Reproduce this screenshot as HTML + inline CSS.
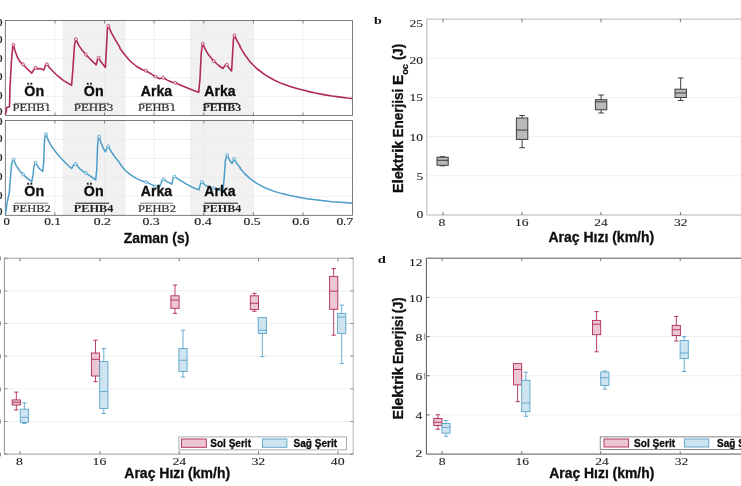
<!DOCTYPE html>
<html lang="tr">
<head>
<meta charset="utf-8">
<title>Elektrik Enerjisi</title>
<style>
html,body{margin:0;padding:0;background:#fff;}
body{width:741px;height:486px;overflow:hidden;position:relative;}
svg{display:block;position:absolute;left:0;top:0;}
.tk{font-family:"Liberation Serif",serif;font-size:11px;fill:#1e1e1e;stroke:#1e1e1e;stroke-width:0.1px;}
.ta{font-family:"Liberation Serif",serif;font-size:9.6px;fill:#1e1e1e;stroke:#1e1e1e;stroke-width:0.15px;}
.lb{font-family:"Liberation Sans",sans-serif;font-weight:bold;fill:#0c0c0c;stroke:#0c0c0c;stroke-width:0.3px;}
.pe{font-family:"Liberation Serif",serif;font-size:9.3px;fill:#333;stroke:#333;stroke-width:0.2px;}
.pb{font-family:"Liberation Serif",serif;font-size:9.3px;font-weight:bold;fill:#1c1c1c;}
.pl{font-family:"Liberation Serif",serif;font-weight:bold;font-size:11.3px;fill:#111;}
</style>
</head>
<body>
<svg width="741" height="486" viewBox="0 0 741 486">
<defs><filter id="sf" x="-5%" y="-5%" width="110%" height="110%"><feGaussianBlur stdDeviation="0.3"/></filter></defs>
<rect x="0" y="0" width="741" height="486" fill="#ffffff"/>
<g filter="url(#sf)">

<!-- panel a -->
<rect x="62.8" y="20.5" width="62.8" height="95.0" fill="#f1f1f1"/>
<rect x="190" y="20.5" width="63.4" height="95.0" fill="#f1f1f1"/>
<line x1="54.9" y1="20.5" x2="54.9" y2="115.5" stroke="#e9e9e9" stroke-width="0.7"/>
<line x1="104.5" y1="20.5" x2="104.5" y2="115.5" stroke="#e9e9e9" stroke-width="0.7"/>
<line x1="154.1" y1="20.5" x2="154.1" y2="115.5" stroke="#e9e9e9" stroke-width="0.7"/>
<line x1="203.8" y1="20.5" x2="203.8" y2="115.5" stroke="#e9e9e9" stroke-width="0.7"/>
<line x1="253.4" y1="20.5" x2="253.4" y2="115.5" stroke="#e9e9e9" stroke-width="0.7"/>
<line x1="303.0" y1="20.5" x2="303.0" y2="115.5" stroke="#e9e9e9" stroke-width="0.7"/>
<line x1="5.3" y1="39.5" x2="352.6" y2="39.5" stroke="#e9e9e9" stroke-width="0.7"/>
<line x1="5.3" y1="58.5" x2="352.6" y2="58.5" stroke="#e9e9e9" stroke-width="0.7"/>
<line x1="5.3" y1="77.5" x2="352.6" y2="77.5" stroke="#e9e9e9" stroke-width="0.7"/>
<line x1="5.3" y1="96.5" x2="352.6" y2="96.5" stroke="#e9e9e9" stroke-width="0.7"/>
<rect x="5.3" y="20.5" width="347.3" height="95.0" fill="none" stroke="#5a5a5a" stroke-width="0.8"/>
<line x1="54.9" y1="20.5" x2="54.9" y2="23.5" stroke="#666" stroke-width="0.8"/>
<line x1="54.9" y1="115.5" x2="54.9" y2="112.5" stroke="#666" stroke-width="0.8"/>
<line x1="104.5" y1="20.5" x2="104.5" y2="23.5" stroke="#666" stroke-width="0.8"/>
<line x1="104.5" y1="115.5" x2="104.5" y2="112.5" stroke="#666" stroke-width="0.8"/>
<line x1="154.1" y1="20.5" x2="154.1" y2="23.5" stroke="#666" stroke-width="0.8"/>
<line x1="154.1" y1="115.5" x2="154.1" y2="112.5" stroke="#666" stroke-width="0.8"/>
<line x1="203.8" y1="20.5" x2="203.8" y2="23.5" stroke="#666" stroke-width="0.8"/>
<line x1="203.8" y1="115.5" x2="203.8" y2="112.5" stroke="#666" stroke-width="0.8"/>
<line x1="253.4" y1="20.5" x2="253.4" y2="23.5" stroke="#666" stroke-width="0.8"/>
<line x1="253.4" y1="115.5" x2="253.4" y2="112.5" stroke="#666" stroke-width="0.8"/>
<line x1="303.0" y1="20.5" x2="303.0" y2="23.5" stroke="#666" stroke-width="0.8"/>
<line x1="303.0" y1="115.5" x2="303.0" y2="112.5" stroke="#666" stroke-width="0.8"/>
<rect x="62.8" y="120.5" width="62.8" height="94.8" fill="#f1f1f1"/>
<rect x="190" y="120.5" width="63.4" height="94.8" fill="#f1f1f1"/>
<line x1="54.9" y1="120.5" x2="54.9" y2="215.3" stroke="#e9e9e9" stroke-width="0.7"/>
<line x1="104.5" y1="120.5" x2="104.5" y2="215.3" stroke="#e9e9e9" stroke-width="0.7"/>
<line x1="154.1" y1="120.5" x2="154.1" y2="215.3" stroke="#e9e9e9" stroke-width="0.7"/>
<line x1="203.8" y1="120.5" x2="203.8" y2="215.3" stroke="#e9e9e9" stroke-width="0.7"/>
<line x1="253.4" y1="120.5" x2="253.4" y2="215.3" stroke="#e9e9e9" stroke-width="0.7"/>
<line x1="303.0" y1="120.5" x2="303.0" y2="215.3" stroke="#e9e9e9" stroke-width="0.7"/>
<line x1="5.3" y1="139.5" x2="352.6" y2="139.5" stroke="#e9e9e9" stroke-width="0.7"/>
<line x1="5.3" y1="158.4" x2="352.6" y2="158.4" stroke="#e9e9e9" stroke-width="0.7"/>
<line x1="5.3" y1="177.4" x2="352.6" y2="177.4" stroke="#e9e9e9" stroke-width="0.7"/>
<line x1="5.3" y1="196.3" x2="352.6" y2="196.3" stroke="#e9e9e9" stroke-width="0.7"/>
<rect x="5.3" y="120.5" width="347.3" height="94.8" fill="none" stroke="#5a5a5a" stroke-width="0.8"/>
<line x1="54.9" y1="120.5" x2="54.9" y2="123.5" stroke="#666" stroke-width="0.8"/>
<line x1="54.9" y1="215.3" x2="54.9" y2="212.3" stroke="#666" stroke-width="0.8"/>
<line x1="104.5" y1="120.5" x2="104.5" y2="123.5" stroke="#666" stroke-width="0.8"/>
<line x1="104.5" y1="215.3" x2="104.5" y2="212.3" stroke="#666" stroke-width="0.8"/>
<line x1="154.1" y1="120.5" x2="154.1" y2="123.5" stroke="#666" stroke-width="0.8"/>
<line x1="154.1" y1="215.3" x2="154.1" y2="212.3" stroke="#666" stroke-width="0.8"/>
<line x1="203.8" y1="120.5" x2="203.8" y2="123.5" stroke="#666" stroke-width="0.8"/>
<line x1="203.8" y1="215.3" x2="203.8" y2="212.3" stroke="#666" stroke-width="0.8"/>
<line x1="253.4" y1="120.5" x2="253.4" y2="123.5" stroke="#666" stroke-width="0.8"/>
<line x1="253.4" y1="215.3" x2="253.4" y2="212.3" stroke="#666" stroke-width="0.8"/>
<line x1="303.0" y1="120.5" x2="303.0" y2="123.5" stroke="#666" stroke-width="0.8"/>
<line x1="303.0" y1="215.3" x2="303.0" y2="212.3" stroke="#666" stroke-width="0.8"/>
<polyline points="5.5,114.3 6.8,107.5 9.5,106.8 10.0,86.9 11.4,61.8 12.6,47.6 13.4,45.1 15.1,51.0 17.6,57.7 20.1,61.8 22.9,64.3 26.8,68.5 31.8,73.2 33.5,70.2 35.5,67.7 37.7,69.0 40.2,68.5 43.8,69.9 45.5,65.2 46.9,64.3 50.2,68.5 56.9,75.2 63.6,80.6 71.6,85.3 72.8,70.2 74.5,45.1 75.8,39.2 78.7,45.1 82.0,50.1 85.8,54.6 90.4,59.3 96.2,64.8 97.6,59.3 98.7,57.7 100.4,61.0 102.9,64.3 105.4,67.4 106.6,45.1 107.4,28.4 108.4,25.9 111.3,32.6 115.5,40.1 119.6,46.8 120.0,48.4 125.0,55.1 130.0,61.0 136.7,66.5 143.4,70.2 145.9,70.7 151.8,74.4 155.5,76.6 159.3,78.6 161.5,78.2 163.2,77.7 166.9,79.9 171.9,82.3 175.2,82.8 180.2,84.9 186.9,87.8 193.6,90.6 198.7,92.3 200.0,78.6 201.2,53.5 202.3,45.1 202.8,43.8 205.3,49.3 208.7,55.1 213.7,61.0 218.7,65.5 222.9,68.5 225.1,65.5 226.8,64.7 228.8,67.7 231.6,71.0 232.6,53.5 233.5,38.4 234.5,35.4 237.1,40.9 240.5,46.8 240.0,46.8 245.0,55.1 250.0,61.8 256.7,68.5 265.1,74.9 273.5,79.7 281.8,83.6 290.2,86.6 298.6,88.9 306.9,91.1 315.3,93.0 323.7,94.6 332.0,96.0 340.4,97.1 347.1,98.0 352.1,98.5" fill="none" stroke="#b02a52" stroke-width="1.6" stroke-linejoin="round"/>
<circle cx="13.4" cy="44.8" r="1.5" fill="#f3d9e2" stroke="#b02a52" stroke-width="0.7"/>
<circle cx="22.9" cy="64.3" r="1.5" fill="#f3d9e2" stroke="#b02a52" stroke-width="0.7"/>
<circle cx="35.5" cy="67.7" r="1.5" fill="#f3d9e2" stroke="#b02a52" stroke-width="0.7"/>
<circle cx="46.9" cy="64.3" r="1.5" fill="#f3d9e2" stroke="#b02a52" stroke-width="0.7"/>
<circle cx="75.8" cy="39.2" r="1.5" fill="#f3d9e2" stroke="#b02a52" stroke-width="0.7"/>
<circle cx="85.8" cy="54.6" r="1.5" fill="#f3d9e2" stroke="#b02a52" stroke-width="0.7"/>
<circle cx="98.7" cy="57.7" r="1.5" fill="#f3d9e2" stroke="#b02a52" stroke-width="0.7"/>
<circle cx="108.4" cy="25.9" r="1.5" fill="#f3d9e2" stroke="#b02a52" stroke-width="0.7"/>
<circle cx="145.9" cy="70.7" r="1.5" fill="#f3d9e2" stroke="#b02a52" stroke-width="0.7"/>
<circle cx="155.5" cy="76.6" r="1.5" fill="#f3d9e2" stroke="#b02a52" stroke-width="0.7"/>
<circle cx="163.2" cy="77.7" r="1.5" fill="#f3d9e2" stroke="#b02a52" stroke-width="0.7"/>
<circle cx="175.2" cy="82.8" r="1.5" fill="#f3d9e2" stroke="#b02a52" stroke-width="0.7"/>
<circle cx="202.8" cy="43.8" r="1.5" fill="#f3d9e2" stroke="#b02a52" stroke-width="0.7"/>
<circle cx="213.7" cy="61.0" r="1.5" fill="#f3d9e2" stroke="#b02a52" stroke-width="0.7"/>
<circle cx="226.8" cy="64.7" r="1.5" fill="#f3d9e2" stroke="#b02a52" stroke-width="0.7"/>
<circle cx="234.5" cy="35.4" r="1.5" fill="#f3d9e2" stroke="#b02a52" stroke-width="0.7"/>
<polyline points="5.5,214.3 7.0,203.0 9.0,194.2 9.2,193.6 10.5,176.9 11.7,163.5 12.7,160.2 13.7,159.5 15.9,165.2 19.2,170.2 23.1,174.4 27.6,178.6 31.8,181.6 33.0,175.2 34.0,166.0 35.1,163.2 35.6,162.7 37.7,166.5 40.2,169.5 42.7,171.4 43.7,161.8 44.5,140.1 45.3,135.1 46.0,134.2 48.5,140.9 51.9,146.8 56.9,153.5 61.9,159.3 66.9,164.3 71.6,168.5 73.6,165.2 75.6,163.8 79.5,168.5 83.7,171.9 85.8,173.0 90.4,176.1 95.7,179.9 96.7,170.2 97.6,145.1 98.4,137.6 99.1,136.7 101.2,143.4 103.4,148.4 105.4,151.8 107.1,147.6 108.3,146.4 111.3,151.8 115.5,157.7 119.6,162.7 120.0,163.8 125.0,170.2 130.0,174.4 136.7,178.6 143.4,181.6 145.9,181.9 151.0,184.4 155.1,186.4 159.3,186.9 161.0,183.6 162.2,179.9 163.5,179.4 166.9,181.6 171.9,184.1 173.0,178.6 174.4,176.6 178.6,179.4 186.9,184.4 193.6,187.8 199.0,189.9 200.3,184.4 202.0,181.9 205.3,185.3 210.4,187.8 213.7,188.3 220.4,190.3 222.9,191.1 224.1,178.6 225.4,160.2 227.1,155.1 229.6,160.2 232.1,163.5 234.1,158.8 237.1,163.8 240.5,168.0 240.0,168.2 245.0,173.9 250.0,178.6 256.7,183.3 265.1,187.8 273.5,191.1 281.8,193.6 290.2,195.6 298.6,197.3 306.9,198.7 315.3,199.8 323.7,200.8 332.0,201.7 340.4,202.3 347.1,202.8 352.1,203.2" fill="none" stroke="#4b9dc9" stroke-width="1.5" stroke-linejoin="round"/>
<circle cx="13.7" cy="159.5" r="1.5" fill="#d9eaf5" stroke="#4b9dc9" stroke-width="0.7"/>
<circle cx="23.1" cy="174.4" r="1.5" fill="#d9eaf5" stroke="#4b9dc9" stroke-width="0.7"/>
<circle cx="35.6" cy="162.7" r="1.5" fill="#d9eaf5" stroke="#4b9dc9" stroke-width="0.7"/>
<circle cx="46.0" cy="134.2" r="1.5" fill="#d9eaf5" stroke="#4b9dc9" stroke-width="0.7"/>
<circle cx="75.6" cy="163.8" r="1.5" fill="#d9eaf5" stroke="#4b9dc9" stroke-width="0.7"/>
<circle cx="85.8" cy="173.0" r="1.5" fill="#d9eaf5" stroke="#4b9dc9" stroke-width="0.7"/>
<circle cx="99.1" cy="136.7" r="1.5" fill="#d9eaf5" stroke="#4b9dc9" stroke-width="0.7"/>
<circle cx="108.3" cy="146.4" r="1.5" fill="#d9eaf5" stroke="#4b9dc9" stroke-width="0.7"/>
<circle cx="145.9" cy="181.9" r="1.5" fill="#d9eaf5" stroke="#4b9dc9" stroke-width="0.7"/>
<circle cx="155.1" cy="186.4" r="1.5" fill="#d9eaf5" stroke="#4b9dc9" stroke-width="0.7"/>
<circle cx="163.5" cy="179.4" r="1.5" fill="#d9eaf5" stroke="#4b9dc9" stroke-width="0.7"/>
<circle cx="174.4" cy="176.6" r="1.5" fill="#d9eaf5" stroke="#4b9dc9" stroke-width="0.7"/>
<circle cx="202.0" cy="181.9" r="1.5" fill="#d9eaf5" stroke="#4b9dc9" stroke-width="0.7"/>
<circle cx="213.7" cy="188.3" r="1.5" fill="#d9eaf5" stroke="#4b9dc9" stroke-width="0.7"/>
<circle cx="227.1" cy="155.1" r="1.5" fill="#d9eaf5" stroke="#4b9dc9" stroke-width="0.7"/>
<circle cx="234.1" cy="158.8" r="1.5" fill="#d9eaf5" stroke="#4b9dc9" stroke-width="0.7"/>
<text class="ta" x="2.6" y="25.7" text-anchor="end" textLength="12.6" lengthAdjust="spacingAndGlyphs">50</text>
<text class="ta" x="2.6" y="125.3" text-anchor="end" textLength="12.6" lengthAdjust="spacingAndGlyphs">50</text>
<text class="ta" x="2.6" y="42.8" text-anchor="end" textLength="12.6" lengthAdjust="spacingAndGlyphs">40</text>
<text class="ta" x="2.6" y="142.4" text-anchor="end" textLength="12.6" lengthAdjust="spacingAndGlyphs">40</text>
<text class="ta" x="2.6" y="61.8" text-anchor="end" textLength="12.6" lengthAdjust="spacingAndGlyphs">30</text>
<text class="ta" x="2.6" y="161.4" text-anchor="end" textLength="12.6" lengthAdjust="spacingAndGlyphs">30</text>
<text class="ta" x="2.6" y="80.3" text-anchor="end" textLength="12.6" lengthAdjust="spacingAndGlyphs">20</text>
<text class="ta" x="2.6" y="179.9" text-anchor="end" textLength="12.6" lengthAdjust="spacingAndGlyphs">20</text>
<text class="ta" x="2.6" y="98.9" text-anchor="end" textLength="12.6" lengthAdjust="spacingAndGlyphs">10</text>
<text class="ta" x="2.6" y="198.5" text-anchor="end" textLength="12.6" lengthAdjust="spacingAndGlyphs">10</text>
<text class="ta" x="2.6" y="115.3" text-anchor="end" textLength="12.6" lengthAdjust="spacingAndGlyphs">00</text>
<text class="ta" x="2.6" y="214.9" text-anchor="end" textLength="12.6" lengthAdjust="spacingAndGlyphs">00</text>
<text class="lb" x="24.3" y="95.6" font-size="14.5px" textLength="19.8" lengthAdjust="spacingAndGlyphs">Ön</text>
<line x1="14.1" y1="103.4" x2="48.2" y2="103.4" stroke="#2e2e2e" stroke-width="0.6"/>
<text class="pe" x="12.6" y="111.2" textLength="38.3" lengthAdjust="spacingAndGlyphs">PEHB1</text>
<text class="lb" x="24.3" y="196.0" font-size="14.5px" textLength="19.8" lengthAdjust="spacingAndGlyphs">Ön</text>
<line x1="14.1" y1="203.2" x2="48.2" y2="203.2" stroke="#2e2e2e" stroke-width="0.6"/>
<text class="pe" x="12.6" y="211.7" textLength="38.3" lengthAdjust="spacingAndGlyphs">PEHB2</text>
<text class="lb" x="83.8" y="95.6" font-size="14.5px" textLength="19.8" lengthAdjust="spacingAndGlyphs">Ön</text>
<line x1="75.6" y1="103.4" x2="109.2" y2="103.4" stroke="#2e2e2e" stroke-width="0.6"/>
<text class="pe" x="73.7" y="111.2" textLength="39.6" lengthAdjust="spacingAndGlyphs">PEHB3</text>
<text class="lb" x="83.8" y="196.0" font-size="14.5px" textLength="19.8" lengthAdjust="spacingAndGlyphs">Ön</text>
<line x1="75.6" y1="203.2" x2="109.2" y2="203.2" stroke="#1a1a1a" stroke-width="1.0"/>
<text class="pb" x="73.7" y="211.7" textLength="39.6" lengthAdjust="spacingAndGlyphs">PEHB4</text>
<text class="lb" x="140.8" y="95.6" font-size="14.5px" textLength="31.2" lengthAdjust="spacingAndGlyphs">Arka</text>
<line x1="140.0" y1="103.4" x2="173.2" y2="103.4" stroke="#2e2e2e" stroke-width="0.6"/>
<text class="pe" x="137.9" y="111.2" textLength="38.0" lengthAdjust="spacingAndGlyphs">PEHB1</text>
<text class="lb" x="140.8" y="196.0" font-size="14.5px" textLength="31.2" lengthAdjust="spacingAndGlyphs">Arka</text>
<line x1="140.0" y1="203.2" x2="173.2" y2="203.2" stroke="#2e2e2e" stroke-width="0.6"/>
<text class="pe" x="137.9" y="211.7" textLength="38.0" lengthAdjust="spacingAndGlyphs">PEHB2</text>
<text class="lb" x="204.3" y="95.6" font-size="14.5px" textLength="31.2" lengthAdjust="spacingAndGlyphs">Arka</text>
<line x1="204.3" y1="103.4" x2="238.0" y2="103.4" stroke="#1a1a1a" stroke-width="1.0"/>
<text class="pb" x="202.4" y="111.2" textLength="38.8" lengthAdjust="spacingAndGlyphs">PEHB3</text>
<text class="lb" x="204.3" y="196.0" font-size="14.5px" textLength="31.2" lengthAdjust="spacingAndGlyphs">Arka</text>
<line x1="204.3" y1="203.2" x2="238.0" y2="203.2" stroke="#1a1a1a" stroke-width="1.0"/>
<text class="pb" x="202.4" y="211.7" textLength="38.8" lengthAdjust="spacingAndGlyphs">PEHB4</text>
<text class="ta" x="3.5" y="225.0" textLength="6.3" lengthAdjust="spacingAndGlyphs">0</text>
<text class="ta" x="44.2" y="225.0" textLength="16.7" lengthAdjust="spacingAndGlyphs">0.1</text>
<text class="ta" x="93.8" y="225.0" textLength="17.2" lengthAdjust="spacingAndGlyphs">0.2</text>
<text class="ta" x="142.4" y="225.0" textLength="17.2" lengthAdjust="spacingAndGlyphs">0.3</text>
<text class="ta" x="194.2" y="225.0" textLength="17.5" lengthAdjust="spacingAndGlyphs">0.4</text>
<text class="ta" x="243.5" y="225.0" textLength="17.2" lengthAdjust="spacingAndGlyphs">0.5</text>
<text class="ta" x="292.2" y="225.0" textLength="17.2" lengthAdjust="spacingAndGlyphs">0.6</text>
<text class="ta" x="336.4" y="225.0" textLength="16.8" lengthAdjust="spacingAndGlyphs">0.7</text>
<text class="lb" x="123.8" y="242.6" font-size="14.2px" textLength="65.5" lengthAdjust="spacingAndGlyphs">Zaman (s)</text>
<!-- panel b -->
<line x1="426.8" y1="175.8" x2="741" y2="175.8" stroke="#e9e9e9" stroke-width="0.7"/>
<line x1="426.8" y1="136.6" x2="741" y2="136.6" stroke="#e9e9e9" stroke-width="0.7"/>
<line x1="426.8" y1="97.5" x2="741" y2="97.5" stroke="#e9e9e9" stroke-width="0.7"/>
<line x1="426.8" y1="58.3" x2="741" y2="58.3" stroke="#e9e9e9" stroke-width="0.7"/>
<line x1="426.8" y1="19.1" x2="741" y2="19.1" stroke="#858585" stroke-width="0.6"/>
<line x1="426.8" y1="215.0" x2="741" y2="215.0" stroke="#858585" stroke-width="0.6"/>
<line x1="426.8" y1="19.1" x2="426.8" y2="215.0" stroke="#858585" stroke-width="0.6"/>
<line x1="443.1" y1="19.1" x2="443.1" y2="22.1" stroke="#555" stroke-width="0.8"/>
<line x1="443.1" y1="215.0" x2="443.1" y2="212.0" stroke="#555" stroke-width="0.8"/>
<line x1="522.0" y1="19.1" x2="522.0" y2="22.1" stroke="#555" stroke-width="0.8"/>
<line x1="522.0" y1="215.0" x2="522.0" y2="212.0" stroke="#555" stroke-width="0.8"/>
<line x1="600.9" y1="19.1" x2="600.9" y2="22.1" stroke="#555" stroke-width="0.8"/>
<line x1="600.9" y1="215.0" x2="600.9" y2="212.0" stroke="#555" stroke-width="0.8"/>
<line x1="680.4" y1="19.1" x2="680.4" y2="22.1" stroke="#555" stroke-width="0.8"/>
<line x1="680.4" y1="215.0" x2="680.4" y2="212.0" stroke="#555" stroke-width="0.8"/>
<line x1="442.6" y1="156.7" x2="442.6" y2="157.2" stroke="#3c3c3c" stroke-width="1.0"/>
<line x1="440.0" y1="156.7" x2="445.2" y2="156.7" stroke="#3c3c3c" stroke-width="1.0"/>
<line x1="442.6" y1="165.3" x2="442.6" y2="165.8" stroke="#3c3c3c" stroke-width="1.0"/>
<line x1="440.0" y1="165.8" x2="445.2" y2="165.8" stroke="#3c3c3c" stroke-width="1.0"/>
<rect x="437.0" y="157.2" width="11.2" height="8.1" fill="#b9b9b9" stroke="#3c3c3c" stroke-width="1.0"/>
<line x1="437.0" y1="160.3" x2="448.2" y2="160.3" stroke="#3c3c3c" stroke-width="1.0"/>
<line x1="522.1" y1="115.5" x2="522.1" y2="118.0" stroke="#3c3c3c" stroke-width="1.0"/>
<line x1="519.3" y1="115.5" x2="524.9" y2="115.5" stroke="#3c3c3c" stroke-width="1.0"/>
<line x1="522.1" y1="139.4" x2="522.1" y2="147.7" stroke="#3c3c3c" stroke-width="1.0"/>
<line x1="519.3" y1="147.7" x2="524.9" y2="147.7" stroke="#3c3c3c" stroke-width="1.0"/>
<rect x="516.4" y="118.0" width="11.4" height="21.4" fill="#b9b9b9" stroke="#3c3c3c" stroke-width="1.0"/>
<line x1="516.4" y1="130.1" x2="527.8" y2="130.1" stroke="#3c3c3c" stroke-width="1.0"/>
<line x1="601.1" y1="95.0" x2="601.1" y2="99.7" stroke="#3c3c3c" stroke-width="1.0"/>
<line x1="598.3" y1="95.0" x2="603.9" y2="95.0" stroke="#3c3c3c" stroke-width="1.0"/>
<line x1="601.1" y1="109.8" x2="601.1" y2="113.0" stroke="#3c3c3c" stroke-width="1.0"/>
<line x1="598.3" y1="113.0" x2="603.9" y2="113.0" stroke="#3c3c3c" stroke-width="1.0"/>
<rect x="595.4" y="99.7" width="11.4" height="10.1" fill="#b9b9b9" stroke="#3c3c3c" stroke-width="1.0"/>
<line x1="595.4" y1="101.8" x2="606.8" y2="101.8" stroke="#3c3c3c" stroke-width="1.0"/>
<line x1="680.7" y1="77.9" x2="680.7" y2="89.2" stroke="#3c3c3c" stroke-width="1.0"/>
<line x1="677.9" y1="77.9" x2="683.5" y2="77.9" stroke="#3c3c3c" stroke-width="1.0"/>
<line x1="680.7" y1="97.5" x2="680.7" y2="100.5" stroke="#3c3c3c" stroke-width="1.0"/>
<line x1="677.9" y1="100.5" x2="683.5" y2="100.5" stroke="#3c3c3c" stroke-width="1.0"/>
<rect x="675.0" y="89.2" width="11.4" height="8.3" fill="#b9b9b9" stroke="#3c3c3c" stroke-width="1.0"/>
<line x1="675.0" y1="93.0" x2="686.4" y2="93.0" stroke="#3c3c3c" stroke-width="1.0"/>
<text class="tk" x="409.6" y="27.1" textLength="13.5" lengthAdjust="spacingAndGlyphs">25</text>
<text class="tk" x="409.6" y="63.5" textLength="13.5" lengthAdjust="spacingAndGlyphs">20</text>
<text class="tk" x="409.6" y="101.2" textLength="13.5" lengthAdjust="spacingAndGlyphs">15</text>
<text class="tk" x="409.6" y="140.7" textLength="13.5" lengthAdjust="spacingAndGlyphs">10</text>
<text class="tk" x="416.4" y="179.7" textLength="6.8" lengthAdjust="spacingAndGlyphs">5</text>
<text class="tk" x="416.4" y="218.0" textLength="6.8" lengthAdjust="spacingAndGlyphs">0</text>
<text class="tk" x="438.6" y="225.6" textLength="6.8" lengthAdjust="spacingAndGlyphs">8</text>
<text class="tk" x="515.1" y="225.6" textLength="13.5" lengthAdjust="spacingAndGlyphs">16</text>
<text class="tk" x="594.3" y="225.6" textLength="13.5" lengthAdjust="spacingAndGlyphs">24</text>
<text class="tk" x="673.9" y="225.6" textLength="13.5" lengthAdjust="spacingAndGlyphs">32</text>
<text class="pl" x="374.0" y="24.1" textLength="7.8" lengthAdjust="spacingAndGlyphs">b</text>
<text class="lb" font-size="14.2px" transform="translate(402.8,193.0) rotate(-90)" textLength="52.3" lengthAdjust="spacingAndGlyphs">Elektrik</text>
<text class="lb" font-size="14.2px" transform="translate(402.8,137.5) rotate(-90)" textLength="48.7" lengthAdjust="spacingAndGlyphs">Enerjisi</text>
<text class="lb" font-size="14.2px" transform="translate(402.8,85.0) rotate(-90)" textLength="10.2" lengthAdjust="spacingAndGlyphs">E</text>
<text class="lb" font-size="9.5px" transform="translate(408.3,74.8) rotate(-90)" textLength="10.7" lengthAdjust="spacingAndGlyphs">oc</text>
<text class="lb" font-size="14.2px" transform="translate(402.8,60.0) rotate(-90)" textLength="16.0" lengthAdjust="spacingAndGlyphs">(J)</text>
<text class="lb" x="601.3" y="242.4" font-size="14.2px" text-anchor="middle" textLength="105.8" lengthAdjust="spacingAndGlyphs">Araç Hızı (km/h)</text>
<!-- panel c -->
<line x1="4.4" y1="290.9" x2="353.2" y2="290.9" stroke="#e9e9e9" stroke-width="0.7"/>
<line x1="4.4" y1="323.5" x2="353.2" y2="323.5" stroke="#e9e9e9" stroke-width="0.7"/>
<line x1="4.4" y1="356.1" x2="353.2" y2="356.1" stroke="#e9e9e9" stroke-width="0.7"/>
<line x1="4.4" y1="388.8" x2="353.2" y2="388.8" stroke="#e9e9e9" stroke-width="0.7"/>
<line x1="4.4" y1="421.5" x2="353.2" y2="421.5" stroke="#e9e9e9" stroke-width="0.7"/>
<line x1="4.4" y1="258.2" x2="353.2" y2="258.2" stroke="#8c8c8c" stroke-width="0.8"/>
<line x1="353.2" y1="258.2" x2="353.2" y2="454.1" stroke="#a0a0a0" stroke-width="0.8"/>
<line x1="4.4" y1="454.1" x2="353.2" y2="454.1" stroke="#858585" stroke-width="0.8"/>
<line x1="4.4" y1="258.2" x2="4.4" y2="454.1" stroke="#787878" stroke-width="0.8"/>
<line x1="20.1" y1="258.2" x2="20.1" y2="261.2" stroke="#555" stroke-width="0.8"/>
<line x1="20.1" y1="454.1" x2="20.1" y2="451.1" stroke="#555" stroke-width="0.8"/>
<line x1="99.9" y1="258.2" x2="99.9" y2="261.2" stroke="#555" stroke-width="0.8"/>
<line x1="99.9" y1="454.1" x2="99.9" y2="451.1" stroke="#555" stroke-width="0.8"/>
<line x1="179.2" y1="258.2" x2="179.2" y2="261.2" stroke="#555" stroke-width="0.8"/>
<line x1="179.2" y1="454.1" x2="179.2" y2="451.1" stroke="#555" stroke-width="0.8"/>
<line x1="258.6" y1="258.2" x2="258.6" y2="261.2" stroke="#555" stroke-width="0.8"/>
<line x1="258.6" y1="454.1" x2="258.6" y2="451.1" stroke="#555" stroke-width="0.8"/>
<line x1="338.0" y1="258.2" x2="338.0" y2="261.2" stroke="#555" stroke-width="0.8"/>
<line x1="338.0" y1="454.1" x2="338.0" y2="451.1" stroke="#555" stroke-width="0.8"/>
<line x1="353.2" y1="258.2" x2="350.2" y2="258.2" stroke="#666" stroke-width="0.7"/>
<line x1="4.4" y1="258.2" x2="7.4" y2="258.2" stroke="#666" stroke-width="0.7"/>
<text class="tk" x="-12.4" y="261.9" textLength="13.5" lengthAdjust="spacingAndGlyphs">60</text>
<line x1="353.2" y1="290.9" x2="350.2" y2="290.9" stroke="#666" stroke-width="0.7"/>
<line x1="4.4" y1="290.9" x2="7.4" y2="290.9" stroke="#666" stroke-width="0.7"/>
<text class="tk" x="-12.4" y="294.6" textLength="13.5" lengthAdjust="spacingAndGlyphs">50</text>
<line x1="353.2" y1="323.5" x2="350.2" y2="323.5" stroke="#666" stroke-width="0.7"/>
<line x1="4.4" y1="323.5" x2="7.4" y2="323.5" stroke="#666" stroke-width="0.7"/>
<text class="tk" x="-12.4" y="327.2" textLength="13.5" lengthAdjust="spacingAndGlyphs">40</text>
<line x1="353.2" y1="356.1" x2="350.2" y2="356.1" stroke="#666" stroke-width="0.7"/>
<line x1="4.4" y1="356.1" x2="7.4" y2="356.1" stroke="#666" stroke-width="0.7"/>
<text class="tk" x="-12.4" y="359.8" textLength="13.5" lengthAdjust="spacingAndGlyphs">30</text>
<line x1="353.2" y1="388.8" x2="350.2" y2="388.8" stroke="#666" stroke-width="0.7"/>
<line x1="4.4" y1="388.8" x2="7.4" y2="388.8" stroke="#666" stroke-width="0.7"/>
<text class="tk" x="-12.4" y="392.5" textLength="13.5" lengthAdjust="spacingAndGlyphs">20</text>
<line x1="353.2" y1="421.5" x2="350.2" y2="421.5" stroke="#666" stroke-width="0.7"/>
<line x1="4.4" y1="421.5" x2="7.4" y2="421.5" stroke="#666" stroke-width="0.7"/>
<text class="tk" x="-12.4" y="425.2" textLength="13.5" lengthAdjust="spacingAndGlyphs">10</text>
<line x1="353.2" y1="454.1" x2="350.2" y2="454.1" stroke="#666" stroke-width="0.7"/>
<line x1="4.4" y1="454.1" x2="7.4" y2="454.1" stroke="#666" stroke-width="0.7"/>
<text class="tk" x="-12.4" y="457.8" textLength="13.5" lengthAdjust="spacingAndGlyphs">00</text>
<line x1="16.3" y1="392.1" x2="16.3" y2="399.9" stroke="#b02a52" stroke-width="0.9"/>
<line x1="14.1" y1="392.1" x2="18.5" y2="392.1" stroke="#b02a52" stroke-width="0.9"/>
<line x1="16.3" y1="405.0" x2="16.3" y2="410.0" stroke="#b02a52" stroke-width="0.9"/>
<line x1="14.1" y1="410.0" x2="18.5" y2="410.0" stroke="#b02a52" stroke-width="0.9"/>
<rect x="12.2" y="399.9" width="8.2" height="5.1" fill="#ecc6d3" stroke="#b02a52" stroke-width="0.9"/>
<line x1="12.2" y1="402.2" x2="20.4" y2="402.2" stroke="#b02a52" stroke-width="0.9"/>
<line x1="24.4" y1="402.9" x2="24.4" y2="409.2" stroke="#5aa3cb" stroke-width="0.9"/>
<line x1="22.2" y1="402.9" x2="26.6" y2="402.9" stroke="#5aa3cb" stroke-width="0.9"/>
<line x1="24.4" y1="422.3" x2="24.4" y2="423.5" stroke="#5aa3cb" stroke-width="0.9"/>
<line x1="22.2" y1="423.5" x2="26.6" y2="423.5" stroke="#5aa3cb" stroke-width="0.9"/>
<rect x="20.3" y="409.2" width="8.2" height="13.1" fill="#cfe4f1" stroke="#5aa3cb" stroke-width="0.9"/>
<line x1="20.3" y1="417.3" x2="28.5" y2="417.3" stroke="#5aa3cb" stroke-width="0.9"/>
<line x1="95.5" y1="340.2" x2="95.5" y2="353.0" stroke="#b02a52" stroke-width="0.9"/>
<line x1="93.3" y1="340.2" x2="97.7" y2="340.2" stroke="#b02a52" stroke-width="0.9"/>
<line x1="95.5" y1="376.0" x2="95.5" y2="381.6" stroke="#b02a52" stroke-width="0.9"/>
<line x1="93.3" y1="381.6" x2="97.7" y2="381.6" stroke="#b02a52" stroke-width="0.9"/>
<rect x="91.4" y="353.0" width="8.2" height="23.0" fill="#ecc6d3" stroke="#b02a52" stroke-width="0.9"/>
<line x1="91.4" y1="359.3" x2="99.6" y2="359.3" stroke="#b02a52" stroke-width="0.9"/>
<line x1="103.8" y1="348.5" x2="103.8" y2="361.6" stroke="#5aa3cb" stroke-width="0.9"/>
<line x1="101.6" y1="348.5" x2="106.0" y2="348.5" stroke="#5aa3cb" stroke-width="0.9"/>
<line x1="103.8" y1="408.5" x2="103.8" y2="413.5" stroke="#5aa3cb" stroke-width="0.9"/>
<line x1="101.6" y1="413.5" x2="106.0" y2="413.5" stroke="#5aa3cb" stroke-width="0.9"/>
<rect x="99.7" y="361.6" width="8.2" height="46.9" fill="#cfe4f1" stroke="#5aa3cb" stroke-width="0.9"/>
<line x1="99.7" y1="391.6" x2="107.9" y2="391.6" stroke="#5aa3cb" stroke-width="0.9"/>
<line x1="175.0" y1="285.0" x2="175.0" y2="295.8" stroke="#b02a52" stroke-width="0.9"/>
<line x1="172.8" y1="285.0" x2="177.2" y2="285.0" stroke="#b02a52" stroke-width="0.9"/>
<line x1="175.0" y1="308.3" x2="175.0" y2="313.4" stroke="#b02a52" stroke-width="0.9"/>
<line x1="172.8" y1="313.4" x2="177.2" y2="313.4" stroke="#b02a52" stroke-width="0.9"/>
<rect x="170.9" y="295.8" width="8.2" height="12.5" fill="#ecc6d3" stroke="#b02a52" stroke-width="0.9"/>
<line x1="170.9" y1="300.0" x2="179.1" y2="300.0" stroke="#b02a52" stroke-width="0.9"/>
<line x1="183.0" y1="330.2" x2="183.0" y2="348.5" stroke="#5aa3cb" stroke-width="0.9"/>
<line x1="180.8" y1="330.2" x2="185.2" y2="330.2" stroke="#5aa3cb" stroke-width="0.9"/>
<line x1="183.0" y1="371.5" x2="183.0" y2="377.0" stroke="#5aa3cb" stroke-width="0.9"/>
<line x1="180.8" y1="377.0" x2="185.2" y2="377.0" stroke="#5aa3cb" stroke-width="0.9"/>
<rect x="178.9" y="348.5" width="8.2" height="23.0" fill="#cfe4f1" stroke="#5aa3cb" stroke-width="0.9"/>
<line x1="178.9" y1="360.3" x2="187.1" y2="360.3" stroke="#5aa3cb" stroke-width="0.9"/>
<line x1="254.4" y1="293.3" x2="254.4" y2="295.8" stroke="#b02a52" stroke-width="0.9"/>
<line x1="252.2" y1="293.3" x2="256.6" y2="293.3" stroke="#b02a52" stroke-width="0.9"/>
<line x1="254.4" y1="309.6" x2="254.4" y2="311.3" stroke="#b02a52" stroke-width="0.9"/>
<line x1="252.2" y1="311.3" x2="256.6" y2="311.3" stroke="#b02a52" stroke-width="0.9"/>
<rect x="250.3" y="295.8" width="8.2" height="13.8" fill="#ecc6d3" stroke="#b02a52" stroke-width="0.9"/>
<line x1="250.3" y1="303.3" x2="258.5" y2="303.3" stroke="#b02a52" stroke-width="0.9"/>
<line x1="262.3" y1="333.5" x2="262.3" y2="356.6" stroke="#5aa3cb" stroke-width="0.9"/>
<line x1="260.1" y1="356.6" x2="264.5" y2="356.6" stroke="#5aa3cb" stroke-width="0.9"/>
<rect x="258.2" y="317.6" width="8.2" height="15.9" fill="#cfe4f1" stroke="#5aa3cb" stroke-width="0.9"/>
<line x1="258.2" y1="330.2" x2="266.4" y2="330.2" stroke="#5aa3cb" stroke-width="0.9"/>
<line x1="333.7" y1="268.6" x2="333.7" y2="276.4" stroke="#b02a52" stroke-width="0.9"/>
<line x1="331.5" y1="268.6" x2="335.9" y2="268.6" stroke="#b02a52" stroke-width="0.9"/>
<line x1="333.7" y1="309.3" x2="333.7" y2="335.2" stroke="#b02a52" stroke-width="0.9"/>
<line x1="331.5" y1="335.2" x2="335.9" y2="335.2" stroke="#b02a52" stroke-width="0.9"/>
<rect x="329.6" y="276.4" width="8.2" height="32.9" fill="#ecc6d3" stroke="#b02a52" stroke-width="0.9"/>
<line x1="329.6" y1="291.2" x2="337.8" y2="291.2" stroke="#b02a52" stroke-width="0.9"/>
<line x1="341.7" y1="305.1" x2="341.7" y2="313.4" stroke="#5aa3cb" stroke-width="0.9"/>
<line x1="339.5" y1="305.1" x2="343.9" y2="305.1" stroke="#5aa3cb" stroke-width="0.9"/>
<line x1="341.7" y1="333.5" x2="341.7" y2="363.6" stroke="#5aa3cb" stroke-width="0.9"/>
<line x1="339.5" y1="363.6" x2="343.9" y2="363.6" stroke="#5aa3cb" stroke-width="0.9"/>
<rect x="337.6" y="313.4" width="8.2" height="20.1" fill="#cfe4f1" stroke="#5aa3cb" stroke-width="0.9"/>
<line x1="337.6" y1="317.1" x2="345.8" y2="317.1" stroke="#5aa3cb" stroke-width="0.9"/>
<rect x="178.9" y="436.9" width="167.7" height="13" fill="#fff" stroke="#8a8a8a" stroke-width="0.7"/>
<rect x="181.5" y="439.0" width="24.8" height="8.3" fill="#ecc6d3" stroke="#b02a52" stroke-width="0.9"/>
<text class="lb" x="210.2" y="447.2" font-size="11px" textLength="40.8" lengthAdjust="spacingAndGlyphs">Sol Şerit</text>
<rect x="262.5" y="439.0" width="24.4" height="8.3" fill="#cfe4f1" stroke="#5aa3cb" stroke-width="0.9"/>
<text class="lb" x="293.6" y="447.2" font-size="11px" textLength="43.4" lengthAdjust="spacingAndGlyphs">Sağ Şerit</text>
<text class="tk" x="15.9" y="464.5" textLength="6.9" lengthAdjust="spacingAndGlyphs">8</text>
<text class="tk" x="92.5" y="464.5" textLength="13.8" lengthAdjust="spacingAndGlyphs">16</text>
<text class="tk" x="172.4" y="464.5" textLength="13.8" lengthAdjust="spacingAndGlyphs">24</text>
<text class="tk" x="251.4" y="464.5" textLength="13.8" lengthAdjust="spacingAndGlyphs">32</text>
<text class="tk" x="330.8" y="464.5" textLength="13.8" lengthAdjust="spacingAndGlyphs">40</text>
<text class="lb" x="177.2" y="478.3" font-size="14.2px" text-anchor="middle" textLength="105.8" lengthAdjust="spacingAndGlyphs">Araç Hızı (km/h)</text>
<!-- panel d -->
<line x1="426.4" y1="297.4" x2="741" y2="297.4" stroke="#e9e9e9" stroke-width="0.7"/>
<line x1="426.4" y1="336.6" x2="741" y2="336.6" stroke="#e9e9e9" stroke-width="0.7"/>
<line x1="426.4" y1="375.7" x2="741" y2="375.7" stroke="#e9e9e9" stroke-width="0.7"/>
<line x1="426.4" y1="414.9" x2="741" y2="414.9" stroke="#e9e9e9" stroke-width="0.7"/>
<line x1="426.4" y1="258.2" x2="741" y2="258.2" stroke="#444" stroke-width="0.9"/>
<line x1="426.4" y1="454.1" x2="741" y2="454.1" stroke="#444" stroke-width="0.9"/>
<line x1="426.4" y1="258.2" x2="426.4" y2="454.1" stroke="#444" stroke-width="0.9"/>
<line x1="426.4" y1="297.4" x2="429.6" y2="297.4" stroke="#444" stroke-width="0.8"/>
<line x1="426.4" y1="336.6" x2="429.6" y2="336.6" stroke="#444" stroke-width="0.8"/>
<line x1="426.4" y1="375.7" x2="429.6" y2="375.7" stroke="#444" stroke-width="0.8"/>
<line x1="426.4" y1="414.9" x2="429.6" y2="414.9" stroke="#444" stroke-width="0.8"/>
<line x1="442.1" y1="258.2" x2="442.1" y2="261.2" stroke="#555" stroke-width="0.8"/>
<line x1="442.1" y1="454.1" x2="442.1" y2="451.1" stroke="#555" stroke-width="0.8"/>
<line x1="521.8" y1="258.2" x2="521.8" y2="261.2" stroke="#555" stroke-width="0.8"/>
<line x1="521.8" y1="454.1" x2="521.8" y2="451.1" stroke="#555" stroke-width="0.8"/>
<line x1="600.7" y1="258.2" x2="600.7" y2="261.2" stroke="#555" stroke-width="0.8"/>
<line x1="600.7" y1="454.1" x2="600.7" y2="451.1" stroke="#555" stroke-width="0.8"/>
<line x1="680.2" y1="258.2" x2="680.2" y2="261.2" stroke="#555" stroke-width="0.8"/>
<line x1="680.2" y1="454.1" x2="680.2" y2="451.1" stroke="#555" stroke-width="0.8"/>
<line x1="437.9" y1="414.8" x2="437.9" y2="418.5" stroke="#b02a52" stroke-width="0.9"/>
<line x1="435.7" y1="414.8" x2="440.1" y2="414.8" stroke="#b02a52" stroke-width="0.9"/>
<line x1="437.9" y1="425.6" x2="437.9" y2="429.3" stroke="#b02a52" stroke-width="0.9"/>
<line x1="435.7" y1="429.3" x2="440.1" y2="429.3" stroke="#b02a52" stroke-width="0.9"/>
<rect x="433.8" y="418.5" width="8.2" height="7.1" fill="#ecc6d3" stroke="#b02a52" stroke-width="0.9"/>
<line x1="433.8" y1="422.3" x2="442.0" y2="422.3" stroke="#b02a52" stroke-width="0.9"/>
<line x1="446.0" y1="420.5" x2="446.0" y2="423.5" stroke="#5aa3cb" stroke-width="0.9"/>
<line x1="443.8" y1="420.5" x2="448.2" y2="420.5" stroke="#5aa3cb" stroke-width="0.9"/>
<line x1="446.0" y1="433.1" x2="446.0" y2="436.4" stroke="#5aa3cb" stroke-width="0.9"/>
<line x1="443.8" y1="436.4" x2="448.2" y2="436.4" stroke="#5aa3cb" stroke-width="0.9"/>
<rect x="441.9" y="423.5" width="8.2" height="9.6" fill="#cfe4f1" stroke="#5aa3cb" stroke-width="0.9"/>
<line x1="441.9" y1="427.3" x2="450.1" y2="427.3" stroke="#5aa3cb" stroke-width="0.9"/>
<line x1="517.6" y1="384.9" x2="517.6" y2="401.7" stroke="#b02a52" stroke-width="0.9"/>
<line x1="515.4" y1="401.7" x2="519.8" y2="401.7" stroke="#b02a52" stroke-width="0.9"/>
<rect x="513.5" y="363.6" width="8.2" height="21.3" fill="#ecc6d3" stroke="#b02a52" stroke-width="0.9"/>
<line x1="513.5" y1="369.5" x2="521.7" y2="369.5" stroke="#b02a52" stroke-width="0.9"/>
<line x1="525.8" y1="372.3" x2="525.8" y2="380.3" stroke="#5aa3cb" stroke-width="0.9"/>
<line x1="523.6" y1="372.3" x2="528.0" y2="372.3" stroke="#5aa3cb" stroke-width="0.9"/>
<line x1="525.8" y1="411.7" x2="525.8" y2="416.3" stroke="#5aa3cb" stroke-width="0.9"/>
<line x1="523.6" y1="416.3" x2="528.0" y2="416.3" stroke="#5aa3cb" stroke-width="0.9"/>
<rect x="521.7" y="380.3" width="8.2" height="31.4" fill="#cfe4f1" stroke="#5aa3cb" stroke-width="0.9"/>
<line x1="521.7" y1="403.0" x2="529.9" y2="403.0" stroke="#5aa3cb" stroke-width="0.9"/>
<line x1="596.6" y1="311.6" x2="596.6" y2="320.4" stroke="#b02a52" stroke-width="0.9"/>
<line x1="594.4" y1="311.6" x2="598.8" y2="311.6" stroke="#b02a52" stroke-width="0.9"/>
<line x1="596.6" y1="334.7" x2="596.6" y2="351.8" stroke="#b02a52" stroke-width="0.9"/>
<line x1="594.4" y1="351.8" x2="598.8" y2="351.8" stroke="#b02a52" stroke-width="0.9"/>
<rect x="592.5" y="320.4" width="8.2" height="14.3" fill="#ecc6d3" stroke="#b02a52" stroke-width="0.9"/>
<line x1="592.5" y1="324.2" x2="600.7" y2="324.2" stroke="#b02a52" stroke-width="0.9"/>
<line x1="604.8" y1="371.0" x2="604.8" y2="372.0" stroke="#5aa3cb" stroke-width="0.9"/>
<line x1="602.6" y1="371.0" x2="607.0" y2="371.0" stroke="#5aa3cb" stroke-width="0.9"/>
<line x1="604.8" y1="385.4" x2="604.8" y2="389.1" stroke="#5aa3cb" stroke-width="0.9"/>
<line x1="602.6" y1="389.1" x2="607.0" y2="389.1" stroke="#5aa3cb" stroke-width="0.9"/>
<rect x="600.7" y="372.0" width="8.2" height="13.4" fill="#cfe4f1" stroke="#5aa3cb" stroke-width="0.9"/>
<line x1="600.7" y1="377.8" x2="608.9" y2="377.8" stroke="#5aa3cb" stroke-width="0.9"/>
<line x1="676.3" y1="316.4" x2="676.3" y2="325.4" stroke="#b02a52" stroke-width="0.9"/>
<line x1="674.1" y1="316.4" x2="678.5" y2="316.4" stroke="#b02a52" stroke-width="0.9"/>
<line x1="676.3" y1="335.5" x2="676.3" y2="341.0" stroke="#b02a52" stroke-width="0.9"/>
<line x1="674.1" y1="341.0" x2="678.5" y2="341.0" stroke="#b02a52" stroke-width="0.9"/>
<rect x="672.2" y="325.4" width="8.2" height="10.1" fill="#ecc6d3" stroke="#b02a52" stroke-width="0.9"/>
<line x1="672.2" y1="329.7" x2="680.4" y2="329.7" stroke="#b02a52" stroke-width="0.9"/>
<line x1="684.2" y1="336.7" x2="684.2" y2="340.5" stroke="#5aa3cb" stroke-width="0.9"/>
<line x1="682.0" y1="336.7" x2="686.4" y2="336.7" stroke="#5aa3cb" stroke-width="0.9"/>
<line x1="684.2" y1="358.6" x2="684.2" y2="371.5" stroke="#5aa3cb" stroke-width="0.9"/>
<line x1="682.0" y1="371.5" x2="686.4" y2="371.5" stroke="#5aa3cb" stroke-width="0.9"/>
<rect x="680.1" y="340.5" width="8.2" height="18.1" fill="#cfe4f1" stroke="#5aa3cb" stroke-width="0.9"/>
<line x1="680.1" y1="353.0" x2="688.3" y2="353.0" stroke="#5aa3cb" stroke-width="0.9"/>
<rect x="600.2" y="436.9" width="160" height="12.6" fill="#fff" stroke="#555" stroke-width="0.7"/>
<rect x="604.0" y="439.0" width="24.6" height="8.0" fill="#ecc6d3" stroke="#b02a52" stroke-width="0.9"/>
<text class="lb" x="634.1" y="447.0" font-size="11px" textLength="41" lengthAdjust="spacingAndGlyphs">Sol Şerit</text>
<rect x="684.4" y="439.0" width="24.4" height="8.0" fill="#cfe4f1" stroke="#5aa3cb" stroke-width="0.9"/>
<text class="lb" x="717.1" y="447.0" font-size="11px" textLength="43.4" lengthAdjust="spacingAndGlyphs">Sağ Şerit</text>
<text class="tk" x="408.9" y="266.0" textLength="13.5" lengthAdjust="spacingAndGlyphs">12</text>
<text class="tk" x="408.9" y="302.0" textLength="13.5" lengthAdjust="spacingAndGlyphs">10</text>
<text class="tk" x="415.6" y="340.7" textLength="6.8" lengthAdjust="spacingAndGlyphs">8</text>
<text class="tk" x="415.6" y="379.7" textLength="6.8" lengthAdjust="spacingAndGlyphs">6</text>
<text class="tk" x="415.6" y="419.2" textLength="6.8" lengthAdjust="spacingAndGlyphs">4</text>
<text class="tk" x="415.6" y="456.9" textLength="6.8" lengthAdjust="spacingAndGlyphs">2</text>
<line x1="424.6" y1="333.5" x2="424.6" y2="339.7" stroke="#444" stroke-width="0.6"/>
<line x1="424.6" y1="372.8" x2="424.6" y2="379.0" stroke="#444" stroke-width="0.6"/>
<text class="tk" x="438.7" y="465.3" textLength="6.8" lengthAdjust="spacingAndGlyphs">8</text>
<text class="tk" x="515.6" y="465.3" textLength="13.5" lengthAdjust="spacingAndGlyphs">16</text>
<text class="tk" x="595.3" y="465.3" textLength="13.5" lengthAdjust="spacingAndGlyphs">24</text>
<text class="tk" x="674.7" y="465.3" textLength="13.5" lengthAdjust="spacingAndGlyphs">32</text>
<text class="pl" x="377.8" y="263.1" textLength="8.1" lengthAdjust="spacingAndGlyphs">d</text>
<text class="lb" font-size="14.2px" transform="translate(402.8,419.4) rotate(-90)" textLength="52.2" lengthAdjust="spacingAndGlyphs">Elektrik</text>
<text class="lb" font-size="14.2px" transform="translate(402.8,364.1) rotate(-90)" textLength="48.4" lengthAdjust="spacingAndGlyphs">Enerjisi</text>
<text class="lb" font-size="14.2px" transform="translate(402.8,313.3) rotate(-90)" textLength="16.0" lengthAdjust="spacingAndGlyphs">(J)</text>
<text class="lb" x="601.8" y="478.3" font-size="14.2px" text-anchor="middle" textLength="105.0" lengthAdjust="spacingAndGlyphs">Araç Hızı (km/h)</text>
</g>
</svg>
</body>
</html>
